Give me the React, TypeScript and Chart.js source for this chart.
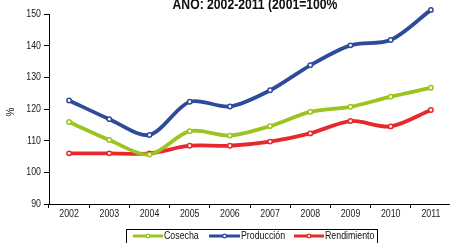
import React, { useEffect, useRef } from "react";
import { Chart, registerables } from "chart.js";

Chart.register(...registerables);

const years = ["2002", "2003", "2004", "2005", "2006", "2007", "2008", "2009", "2010", "2011"];
const cosecha = [115.9, 110.2, 105.6, 113.0, 111.6, 114.6, 119.1, 120.7, 123.9, 126.7];
const produccion = [122.7, 116.8, 111.8, 122.3, 120.8, 125.9, 133.8, 140.1, 141.8, 151.3];
const rendimiento = [106.0, 106.0, 106.0, 108.4, 108.4, 109.7, 112.3, 116.2, 114.5, 119.7];
const yTicks = [90, 100, 110, 120, 130, 140, 150];
const titleText = "AÑO: 2002-2011 (2001=100%";
const yTitle = "%";

const FONT = "'Liberation Sans', Arial, sans-serif";
const SQ = 0.8; // horizontal squeeze to mimic condensed font

function narrowText(ctx: any, text: string, x: number, y: number, align: "left" | "center" | "right", sq = SQ) {
  ctx.save();
  ctx.translate(x, y);
  ctx.scale(sq, 1);
  ctx.textAlign = align;
  ctx.fillText(text, 0, 0);
  ctx.restore();
}

const overlayPlugin = {
  id: "overlay",
  afterDraw(chart: any) {
    const ctx = chart.ctx;
    const xs = chart.scales.x;
    const ys = chart.scales.y;
    ctx.save();
    ctx.fillStyle = "#222";
    ctx.font = `11px ${FONT}`;
    ctx.textBaseline = "middle";
    years.forEach((lab, i) => {
      narrowText(ctx, lab, xs.getPixelForTick(i), 214, "center");
    });
    yTicks.forEach((v) => {
      narrowText(ctx, String(v), 41, ys.getPixelForValue(v), "right");
    });

    // title
    ctx.fillStyle = "#111";
    ctx.font = `bold 14px ${FONT}`;
    ctx.textBaseline = "alphabetic";
    narrowText(ctx, titleText, 255, 9, "center", 0.87);

    // y title
    ctx.font = `10px ${FONT}`;
    ctx.save();
    ctx.translate(11, 112);
    ctx.rotate(-Math.PI / 2);
    ctx.textBaseline = "middle";
    ctx.textAlign = "center";
    ctx.fillText(yTitle, 0, 0);
    ctx.restore();
    ctx.restore();

    // legend
    ctx.save();
    ctx.strokeStyle = "#000";
    ctx.lineWidth = 1;
    ctx.strokeRect(126.5, 229.5, 251, 30);
    const items = [
      { x0: 133, x1: 163, tx: 164 },
      { x0: 209, x1: 240, tx: 241 },
      { x0: 294, x1: 324, tx: 325 },
    ];
    const y = 236;
    chart.data.datasets.forEach((ds: any, i: number) => {
      const it = items[i];
      ctx.strokeStyle = ds.borderColor;
      ctx.lineWidth = 3;
      ctx.beginPath();
      ctx.moveTo(it.x0, y);
      ctx.lineTo(it.x1, y);
      ctx.stroke();
      ctx.beginPath();
      ctx.arc((it.x0 + it.x1) / 2, y, 1.8, 0, Math.PI * 2);
      ctx.fillStyle = "#fff";
      ctx.fill();
      ctx.lineWidth = 1.3;
      ctx.stroke();
      ctx.fillStyle = "#111";
      ctx.font = `11px ${FONT}`;
      ctx.textBaseline = "middle";
      narrowText(ctx, ds.label, it.tx, y, "left");
    });
    ctx.restore();
  },
};

export default function App() {
  const ref = useRef<HTMLCanvasElement | null>(null);
  useEffect(() => {
    if (!ref.current) return;
    const mk = (label: string, data: number[], color: string) => ({
      label,
      data,
      borderColor: color,
      backgroundColor: "#fff",
      borderWidth: 3.8,
      pointRadius: 2.2,
      pointBorderWidth: 1.5,
      pointBackgroundColor: "#fff",
      pointBorderColor: color,
      tension: 0.3,
      fill: false,
      clip: false,
    });
    const chart = new Chart(ref.current, {
      type: "line",
      data: {
        labels: years,
        datasets: [
          mk("Cosecha", cosecha, "#9CC31E"),
          mk("Producción", produccion, "#2E4B9B"),
          mk("Rendimiento", rendimiento, "#E8282B"),
        ],
      },
      options: {
        animation: false,
        responsive: false,
        maintainAspectRatio: false,
        layout: { padding: { left: 0, right: 9, top: 14, bottom: 19 } },
        plugins: { legend: { display: false }, title: { display: false }, tooltip: { enabled: false } },
        scales: {
          x: {
            offset: true,
            border: { display: true, color: "#000", width: 1 },
            grid: { offset: true, drawOnChartArea: false, drawTicks: true, tickLength: 4, color: "#000" },
            ticks: { display: false, autoSkip: false },
            afterFit(scale: any) {
              scale.height = 20;
            },
          },
          y: {
            min: 90,
            max: 150,
            border: { display: true, color: "#000", width: 1 },
            grid: { drawOnChartArea: false, drawTicks: true, tickLength: 5, color: "#000" },
            ticks: { stepSize: 10, display: false },
            afterFit(scale: any) {
              scale.width = 49;
            },
          },
        },
      },
      plugins: [overlayPlugin],
    });
    return () => chart.destroy();
  }, []);
  return (
    <div style={{ position: "fixed", left: 0, top: 0, width: 450, height: 243, overflow: "hidden", background: "#fff" }}>
      <canvas ref={ref} width={460} height={243} style={{ width: 460, height: 243, display: "block" }} />
    </div>
  );
}
